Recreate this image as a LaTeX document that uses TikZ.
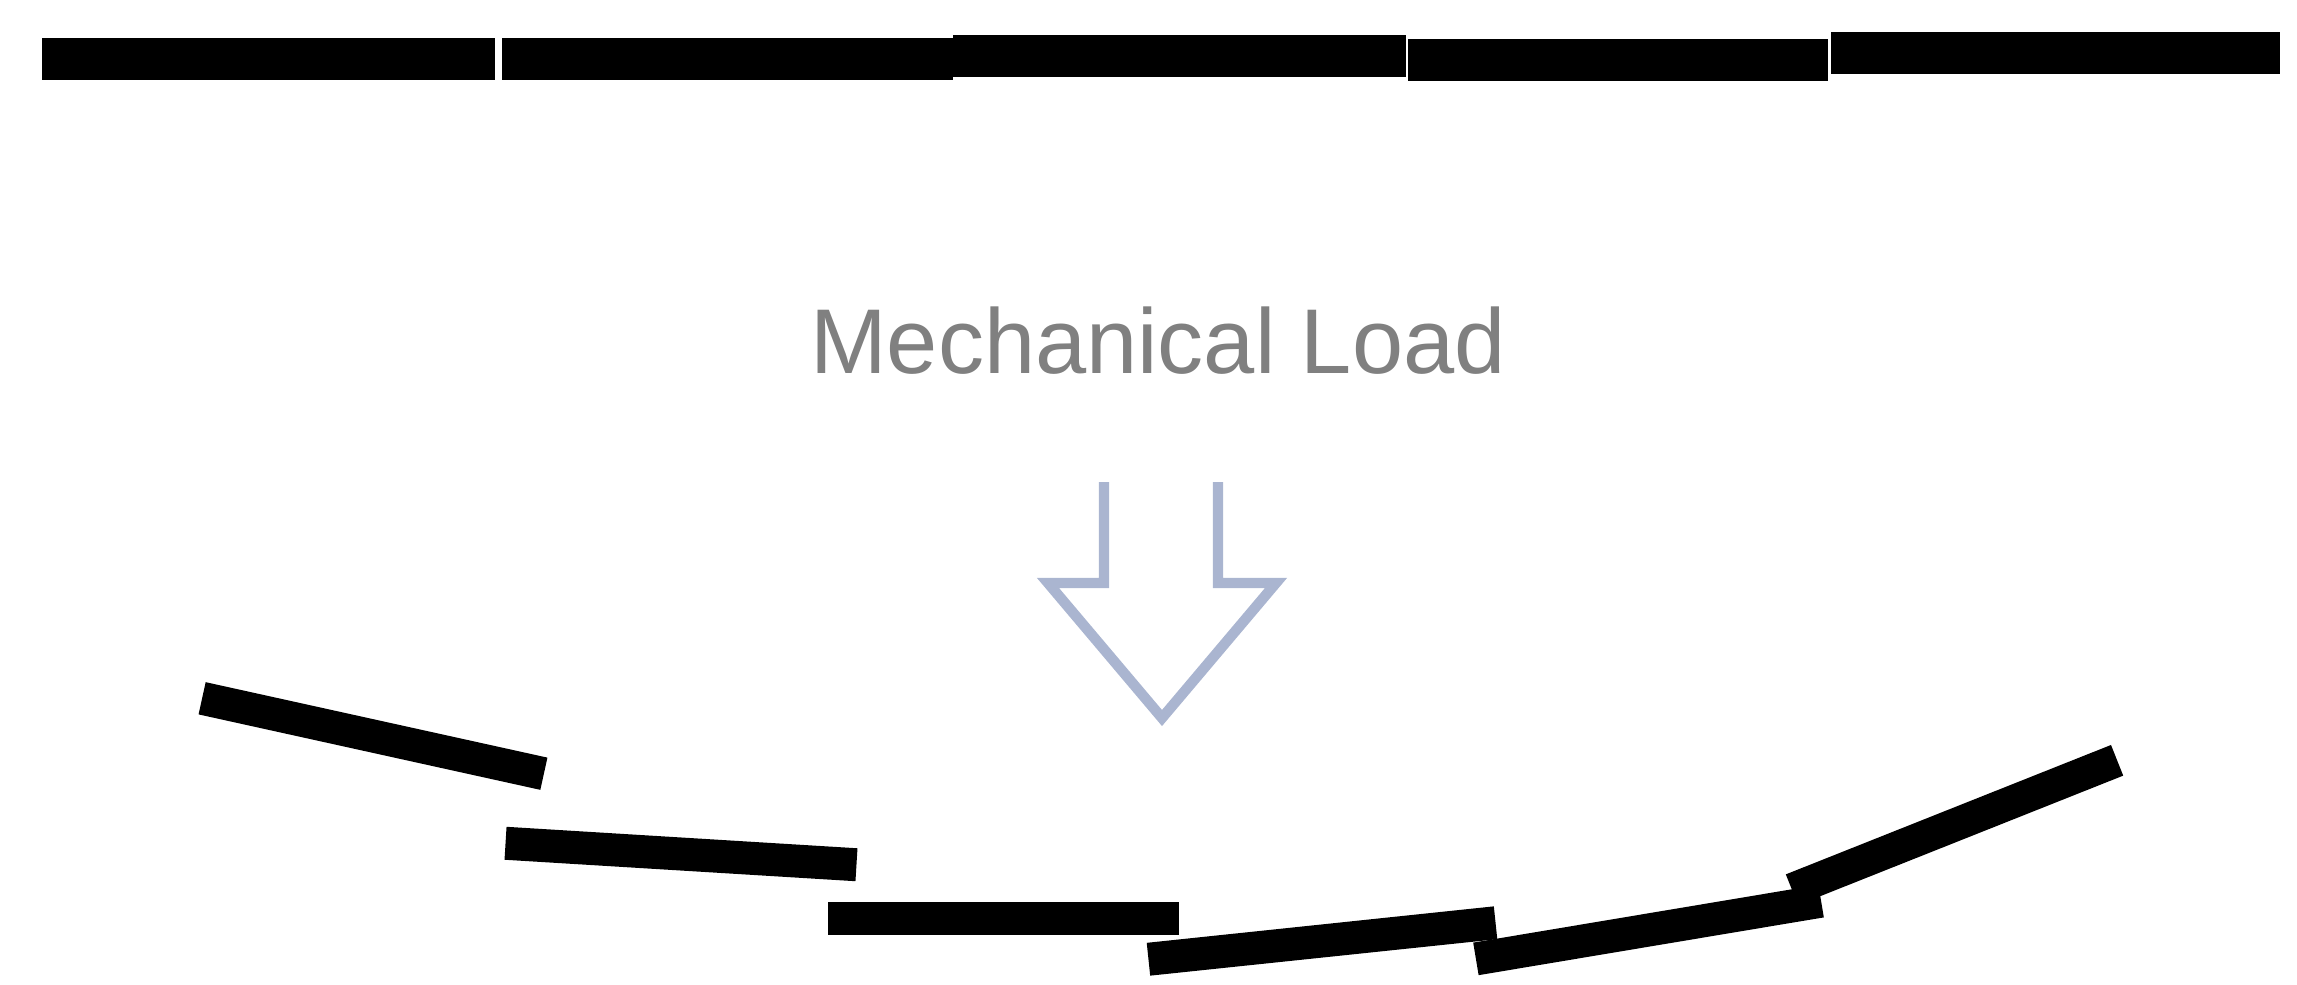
\documentclass[tikz,border=0pt]{standalone}
\usepackage{fontspec}
\setmainfont{Liberation Sans}
\definecolor{loadgray}{RGB}{128,128,128}
\definecolor{arrowblue}{RGB}{170,181,208}
\tikzset{
  topbar/.style={fill=black, draw=none, inner sep=0pt, minimum height=21pt, rectangle},
  botbar/.style={fill=black, draw=none, inner sep=0pt, minimum height=16.5pt, minimum width=175pt, rectangle},
  loadarrow/.style={draw=arrowblue, line width=5.2pt, line join=miter, line cap=butt},
  loadtext/.style={text=loadgray, inner sep=0pt, font=\fontsize{46}{55}\selectfont}
}
\begin{document}
\begin{tikzpicture}[x=0.5pt,y=-0.5pt]
\useasboundingbox (0,0) rectangle (2297,985);
% top row of flat bars
\node[topbar, minimum width=226.5pt] (t1) at (268.5,59) {};
\node[topbar, minimum width=225.5pt] (t2) at (727.5,59) {};
\node[topbar, minimum width=226.5pt] (t3) at (1179.5,56) {};
\node[topbar, minimum width=210pt] (t4) at (1618,59.5) {};
\node[topbar, minimum width=224.5pt] (t5) at (2055.5,53) {};
% label
\node[loadtext, anchor=base] (label) at (1158,373) {Mechanical Load};
% hollow arrow
\coordinate (al) at (1104,482);
\coordinate (ar) at (1218,482);
\draw[loadarrow] (al) -- (1104,583) -- (1048,583) -- (1162,718) -- (1276,583) -- (1218,583) -- (ar);
% bent row of bars
\node[botbar, rotate=-12.45] (b1) at (373,736) {};
\node[botbar, rotate=-3.5, minimum width=175.8pt] (b2) at (681,854) {};
\node[botbar, minimum width=175.5pt] (b3) at (1003.5,918.5) {};
\node[botbar, rotate=6.0, minimum width=174.5pt] (b4) at (1322,941) {};
\node[botbar, rotate=9.5] (b5) at (1648.5,930) {};
\node[botbar, rotate=21.7] (b6) at (1954.5,825) {};
\end{tikzpicture}
\end{document}
